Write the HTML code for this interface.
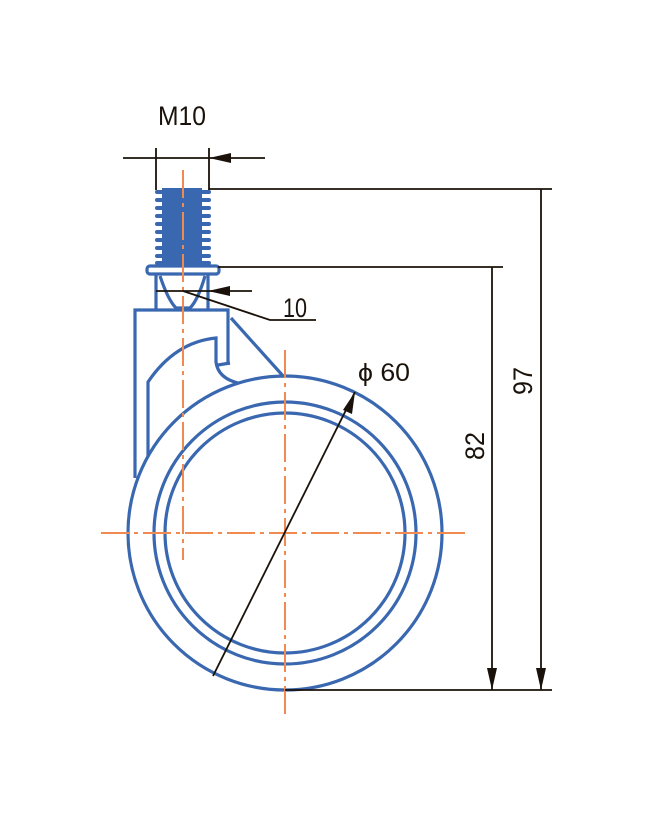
<!DOCTYPE html>
<html><head><style>body{margin:0;background:#fff}svg{display:block}</style></head><body>
<svg width="653" height="818" viewBox="0 0 653 818" xmlns="http://www.w3.org/2000/svg">
<g fill="none" stroke="#3a68b0" stroke-width="3.2">
<circle cx="285" cy="533" r="157"/>
<circle cx="285" cy="533" r="131"/>
<circle cx="285" cy="533" r="120"/>
<path d="M135 478 V310 H228 V365"/>
<path d="M231 318 L284 377"/>
<path d="M148 457 V382 Q175 342 216 338 V362 Q218 378 238 383"/>
<path d="M218 365 L230 363"/>
<rect x="147" y="266" width="72" height="8" rx="3"/>
<path d="M156 275 V310 M208 275 V310"/>
<path d="M160 276 Q168 300 176 308 H190 Q198 300 205 276"/>
</g>
<g fill="#3a68b0">
<rect x="162" y="188" width="40" height="78"/>
<g stroke="#3a68b0" stroke-width="4" stroke-linecap="round">
<path d="M157 192H209M157 200H209M157 208H209M157 216H209M157 224H209M157 232H209M157 240H209M157 248H209M157 256H209M157 263H209"/>
</g>
</g>
<g stroke="#f08a50" stroke-width="2" fill="none" stroke-dasharray="28,5,4,5">
<path d="M183 170 V560"/>
<path d="M285 350 V716"/>
<path d="M101 533 H468"/>
</g>
<g stroke="#1a120a" stroke-width="1.8" fill="none">
<path d="M123 158 H265"/>
<path d="M156 148 V190 M209 148 V190"/>
<path d="M209 189 H552"/>
<path d="M218 267 H503"/>
<path d="M285 690 H552"/>
<path d="M541 189 V690"/>
<path d="M492 267 V690"/>
<path d="M156 291 H252"/>
<path d="M183 291 L270 320 H316"/>
<path d="M213 676 L355 392"/>
</g>
<g fill="#1a120a">
<polygon points="209,158 231,153 231,163"/>
<polygon points="208,291 230,286 230,296"/>
<polygon points="492,690 487,668 497,668"/>
<polygon points="541,690 536,668 546,668"/>
<polygon points="355,392 352,414 343,410"/>
</g>
<g font-family="Liberation Sans, sans-serif" fill="#1a120a" font-size="27">
<text x="182" y="125" text-anchor="middle" textLength="48" lengthAdjust="spacingAndGlyphs">M10</text>
<text x="283" y="317" textLength="24" lengthAdjust="spacingAndGlyphs">10</text>
<text x="358" y="381" font-size="25" textLength="52" lengthAdjust="spacingAndGlyphs">ϕ 60</text>
<text transform="translate(532,381) rotate(-90)" text-anchor="middle" textLength="28" lengthAdjust="spacingAndGlyphs">97</text>
<text transform="translate(484,446) rotate(-90)" text-anchor="middle" textLength="28" lengthAdjust="spacingAndGlyphs">82</text>
</g>
</svg>
</body></html>
